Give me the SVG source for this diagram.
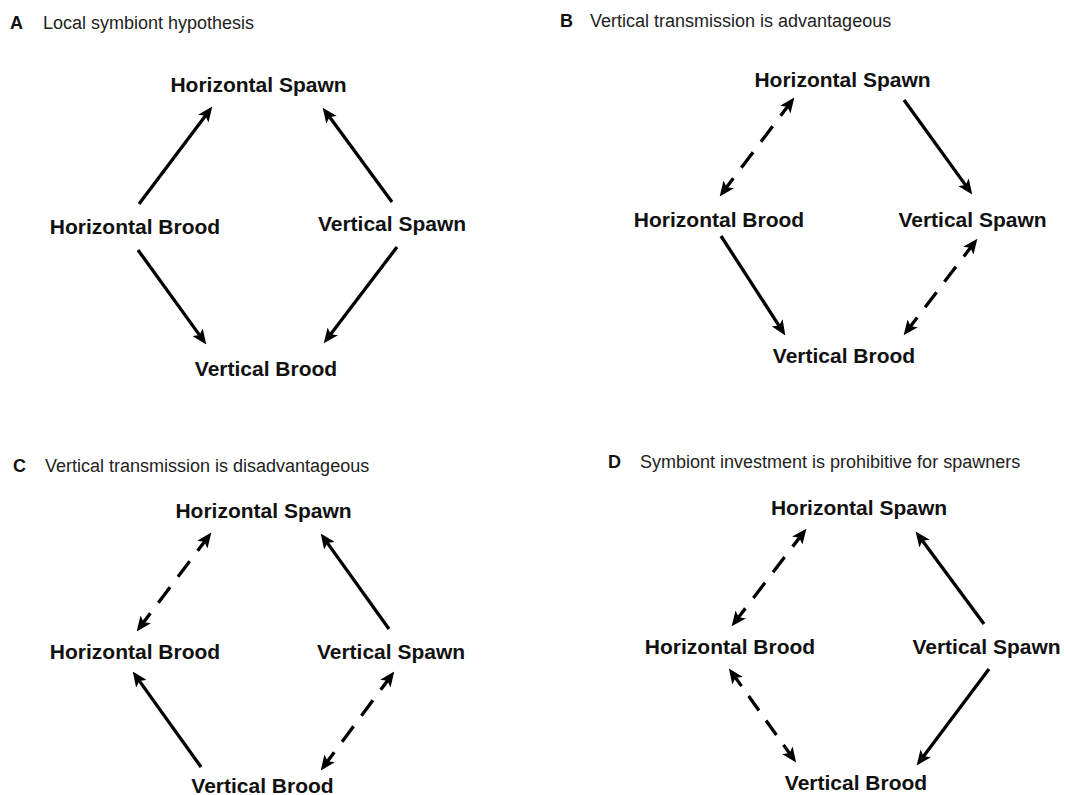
<svg xmlns="http://www.w3.org/2000/svg" width="1065" height="795" viewBox="0 0 1065 795">
<style>
.lbl{font-family:"Liberation Sans",Arial,sans-serif;font-weight:bold;font-size:21px;fill:#111;text-anchor:middle}
.pl{font-family:"Liberation Sans",Arial,sans-serif;font-weight:bold;font-size:18px;fill:#111}
.ttl{font-family:"Liberation Sans",Arial,sans-serif;font-size:18px;fill:#222}
.a{stroke:#000;stroke-width:3.3;fill:none;stroke-linecap:butt}
.s{marker-end:url(#ah)}
.d{marker-start:url(#ah);marker-end:url(#ah);stroke-dasharray:12 13 19 13 19 13 12}
</style>
<defs>
<marker id="ah" viewBox="0 0 15 13" refX="4.5" refY="6.5" markerWidth="15" markerHeight="13" markerUnits="userSpaceOnUse" orient="auto-start-reverse">
<path d="M0,0 L15,6.5 L0,13 L3.5,6.5 z" fill="#000"/>
</marker>
</defs>
<rect width="1065" height="795" fill="#fff"/>

<g id="titles">
<text class="pl" x="10" y="28.5">A</text><text class="ttl" x="43" y="28.5">Local symbiont hypothesis</text>
<text class="pl" x="560" y="27">B</text><text class="ttl" x="590" y="27">Vertical transmission is advantageous</text>
<text class="pl" x="13" y="472">C</text><text class="ttl" x="45" y="472">Vertical transmission is disadvantageous</text>
<text class="pl" x="608" y="468">D</text><text class="ttl" x="640" y="468">Symbiont investment is prohibitive for spawners</text>
</g>

<g id="panelA">
<g id="A-HS"><text class="lbl" x="258.5" y="91.5">Horizontal Spawn</text></g>
<g id="A-HB"><text class="lbl" x="135" y="234">Horizontal Brood</text></g>
<g id="A-VS"><text class="lbl" x="392" y="230.5">Vertical Spawn</text></g>
<g id="A-VB"><text class="lbl" x="266" y="376">Vertical Brood</text></g>
</g>
<g id="panelB">
<g id="B-HS"><text class="lbl" x="842.5" y="87">Horizontal Spawn</text></g>
<g id="B-HB"><text class="lbl" x="719" y="227">Horizontal Brood</text></g>
<g id="B-VS"><text class="lbl" x="972.5" y="227">Vertical Spawn</text></g>
<g id="B-VB"><text class="lbl" x="844" y="363">Vertical Brood</text></g>
</g>
<g id="panelC">
<g id="C-HS"><text class="lbl" x="263.5" y="518">Horizontal Spawn</text></g>
<g id="C-HB"><text class="lbl" x="135" y="659">Horizontal Brood</text></g>
<g id="C-VS"><text class="lbl" x="391" y="659">Vertical Spawn</text></g>
<g id="C-VB"><text class="lbl" x="262.5" y="793">Vertical Brood</text></g>
</g>
<g id="panelD">
<g id="D-HS"><text class="lbl" x="859" y="515">Horizontal Spawn</text></g>
<g id="D-HB"><text class="lbl" x="730" y="654">Horizontal Brood</text></g>
<g id="D-VS"><text class="lbl" x="986.5" y="654">Vertical Spawn</text></g>
<g id="D-VB"><text class="lbl" x="856" y="790">Vertical Brood</text></g>
</g>

<g id="connectors">
<path class="a s" d="M139,204 L206,115"/>
<path class="a s" d="M392,202 L328.9,116.1"/>
<path class="a s" d="M138,250 L200.1,335.9"/>
<path class="a s" d="M397,247 L330.1,335"/>

<path class="a d" pathLength="101" d="M726,188 L788,106"/>
<path class="a s" d="M904,100 L966.1,185.9"/>
<path class="a s" d="M721,236 L779.6,326.6"/>
<path class="a d" pathLength="101" d="M971,247 L910,327"/>

<path class="a d" pathLength="101" d="M143,623 L205,541"/>
<path class="a s" d="M389,629 L326.8,542.1"/>
<path class="a s" d="M201,767 L138.8,680.1"/>
<path class="a d" pathLength="101" d="M388,680 L327,762"/>

<path class="a d" pathLength="101" d="M738,618 L800,537"/>
<path class="a s" d="M984,624 L921.9,540"/>
<path class="a d" pathLength="101" d="M735,677 L790,754"/>
<path class="a s" d="M989,669 L923,757"/>
</g>
</svg>
